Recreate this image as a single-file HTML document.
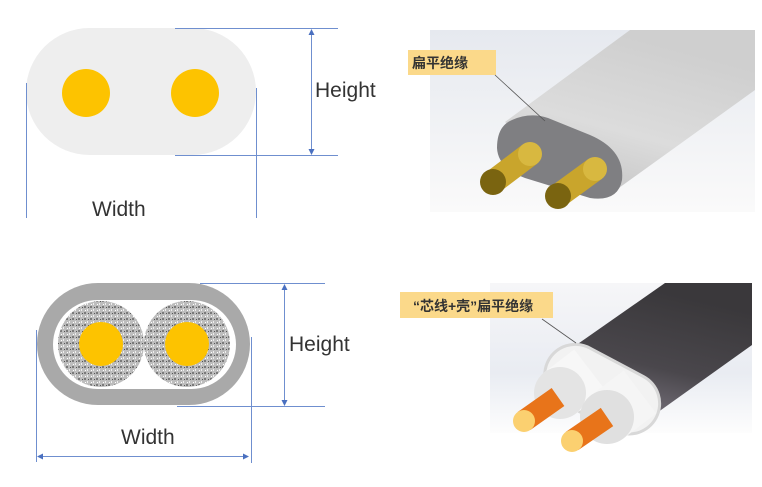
<!DOCTYPE html>
<html><head><meta charset="utf-8"><style>
html,body{margin:0;padding:0;background:#fff;width:762px;height:487px;overflow:hidden}
svg{display:block}
text{font-family:"Liberation Sans","Noto Sans CJK SC",sans-serif}
</style></head><body>
<svg width="762" height="487" viewBox="0 0 762 487" xmlns="http://www.w3.org/2000/svg">
<defs>
<linearGradient id="bg1" x1="0" y1="0" x2="0" y2="1"><stop offset="0" stop-color="#e6e9ef"/><stop offset="1" stop-color="#fafafa"/></linearGradient>
<linearGradient id="bg2" x1="0" y1="0" x2="0" y2="1"><stop offset="0" stop-color="#f6f6f8"/><stop offset="0.6" stop-color="#e9ecf2"/><stop offset="1" stop-color="#fdfdfd"/></linearGradient>
<linearGradient id="body1" x1="0" y1="1" x2="0.4" y2="0"><stop offset="0" stop-color="#bdbdbd"/><stop offset="0.5" stop-color="#dcdcdc"/><stop offset="1" stop-color="#cfcfcf"/></linearGradient>
<linearGradient id="dark" x1="0" y1="1" x2="0.3" y2="0"><stop offset="0" stop-color="#8a8490"/><stop offset="0.5" stop-color="#4a474c"/><stop offset="1" stop-color="#3a383b"/></linearGradient>
<pattern id="spk" width="6" height="6" patternUnits="userSpaceOnUse"><rect width="6" height="6" fill="#bdbdbd"/><rect x="0" y="0" width="2" height="2" fill="#7a7a7a"/><rect x="3" y="3" width="1" height="2" fill="#eee"/><rect x="4" y="1" width="1" height="1" fill="#555"/><rect x="1" y="4" width="1" height="1" fill="#fff"/></pattern>
</defs>

<!-- top-left diagram -->
<rect x="26" y="28" width="230" height="127" rx="63.5" fill="#eeeeee"/>
<circle cx="86" cy="93" r="24" fill="#fdc300"/>
<circle cx="195" cy="93" r="24" fill="#fdc300"/>
<g stroke="#6f8fcf" stroke-width="1" fill="none">
<line x1="175" y1="28.5" x2="338" y2="28.5"/>
<line x1="175" y1="155.5" x2="338" y2="155.5"/>
<line x1="311.5" y1="31" x2="311.5" y2="152"/>
<line x1="26.5" y1="83" x2="26.5" y2="218"/>
<line x1="256.5" y1="88" x2="256.5" y2="218"/>
</g>
<path d="M311.5 29 l-3 6 h6z M311.5 155 l-3 -6 h6z" fill="#4a70c0"/>
<text x="315" y="97" font-size="21" fill="#333">Height</text>
<text x="92" y="216" font-size="21" fill="#333">Width</text>

<!-- top-right render -->
<rect x="430" y="30" width="325" height="182" fill="url(#bg1)"/>
<path d="M505 122 L630 30 L755 30 L755 90 L605 198 Z" fill="url(#body1)"/>
<path d="M512 120 Q530 112 548 118 L590 135 Q625 150 622 180 Q618 202 590 198 L525 178 Q498 168 497 148 Q497 126 512 120Z" fill="#7f7f82"/>
<g>
<line x1="493" y1="182" x2="530" y2="154" stroke="#c9a52c" stroke-width="24"/>
<ellipse cx="530" cy="154" rx="12" ry="12" fill="#d8b840"/>
<ellipse cx="493" cy="182" rx="13" ry="13" fill="#7a6410"/>
<line x1="558" y1="196" x2="595" y2="169" stroke="#c9a52c" stroke-width="24"/>
<ellipse cx="595" cy="169" rx="12" ry="12" fill="#d8b840"/>
<ellipse cx="558" cy="196" rx="13" ry="13" fill="#7a6410"/>
</g>
<rect x="408" y="50" width="88" height="25" fill="#fbd98a"/>
<text x="412" y="68" font-size="14" font-weight="bold" fill="#333">扁平绝缘</text>
<line x1="495" y1="75" x2="545" y2="121" stroke="#555" stroke-width="0.8"/>

<!-- bottom-left diagram -->
<rect x="37" y="283" width="213" height="122" rx="61" fill="#a9a9a9"/>
<rect x="53" y="300" width="183" height="89" rx="44.5" fill="#ffffff"/>
<circle cx="101" cy="344" r="43" fill="url(#spk)"/>
<circle cx="187" cy="344" r="43" fill="url(#spk)"/>
<circle cx="101" cy="344" r="22" fill="#fdc300"/>
<circle cx="187" cy="344" r="22" fill="#fdc300"/>
<g stroke="#6f8fcf" stroke-width="1" fill="none">
<line x1="200" y1="283.5" x2="325" y2="283.5"/>
<line x1="177" y1="406.5" x2="325" y2="406.5"/>
<line x1="284.5" y1="286" x2="284.5" y2="404"/>
<line x1="36.5" y1="330" x2="36.5" y2="462"/>
<line x1="251.5" y1="337" x2="251.5" y2="463"/>
<line x1="38" y1="456.5" x2="248" y2="456.5"/>
</g>
<path d="M284.5 284 l-3 6 h6z M284.5 406 l-3 -6 h6z M37 456.5 l6 -3 v6z M249 456.5 l-6 -3 v6z" fill="#4a70c0"/>
<text x="289" y="351" font-size="21" fill="#333">Height</text>
<text x="121" y="444" font-size="21" fill="#333">Width</text>

<!-- bottom-right render -->
<rect x="490" y="283" width="262" height="150" fill="url(#bg2)"/>
<path d="M572 348 L665 283 L752 283 L752 345 L640 425 Z" fill="url(#dark)"/>
<g transform="rotate(28 600 388)">
<rect x="540" y="356" width="125" height="64" rx="32" fill="#d8d8d8"/>
<rect x="543" y="359" width="119" height="58" rx="29" fill="#f2f2f2"/>
</g>
<line x1="560" y1="393" x2="590" y2="370" stroke="#f7f7f7" stroke-width="52"/>
<circle cx="560" cy="393" r="26" fill="#e4e4e4"/>
<line x1="607" y1="417" x2="640" y2="392" stroke="#f5f5f5" stroke-width="54"/>
<circle cx="607" cy="417" r="27" fill="#e0e0e0"/>
<line x1="524" y1="421" x2="558" y2="397" stroke="#e8741a" stroke-width="22"/>
<circle cx="524" cy="421" r="11" fill="#fbd070"/>
<line x1="572" y1="441" x2="607" y2="417" stroke="#e8741a" stroke-width="22"/>
<circle cx="572" cy="441" r="11" fill="#fbd070"/>
<rect x="400" y="292" width="153" height="26" fill="#fbd98a"/>
<text x="413" y="311" font-size="14" font-weight="bold" fill="#333">“芯线+壳”扁平绝缘</text>
<line x1="542" y1="319" x2="576" y2="343" stroke="#555" stroke-width="0.8"/>
</svg>
</body></html>
